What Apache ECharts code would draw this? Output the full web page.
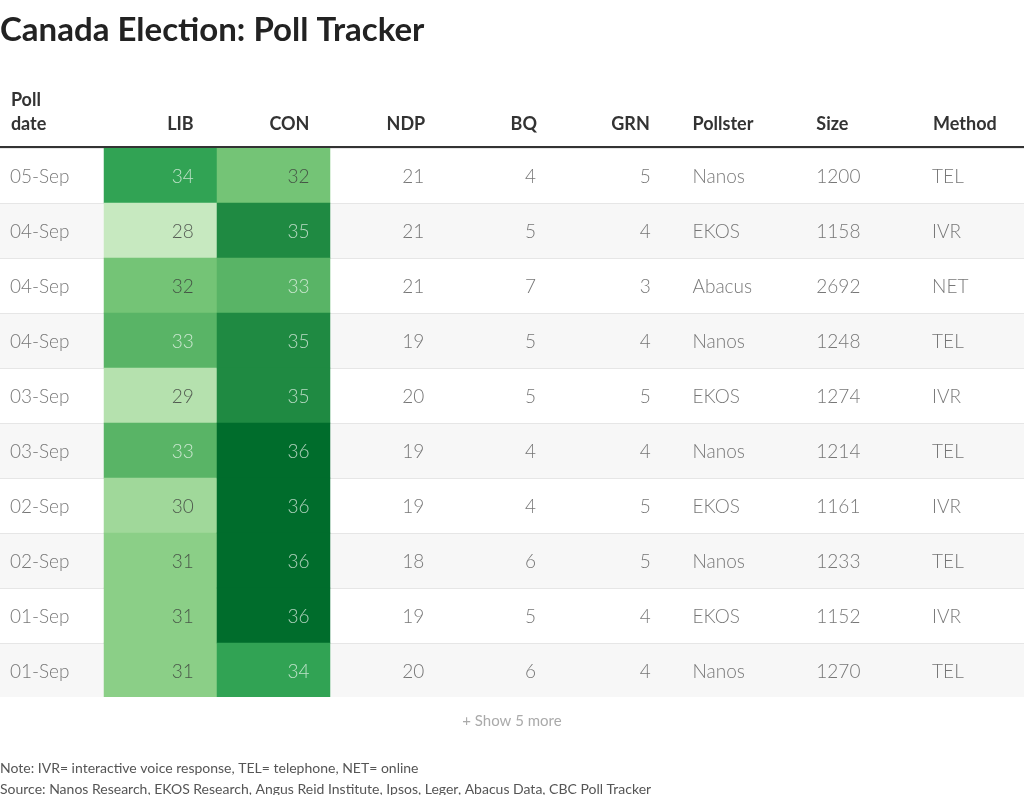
<!DOCTYPE html>
<html>
<head>
<meta charset="utf-8">
<script src="https://cdn.jsdelivr.net/npm/echarts@6/dist/echarts.min.js"></script>
<style>
  html, body { margin: 0; padding: 0; background: #fff; }
  #chart { width: 1024px; height: 795px; }
</style>
</head>
<body>
<div id="chart"></div>
<script>
const columns = ['Poll\ndate', 'LIB', 'CON', 'NDP', 'BQ', 'GRN', 'Pollster', 'Size', 'Method'];
const shadedCols = ['LIB', 'CON'];
const pollDate = ['05-Sep', '04-Sep', '04-Sep', '04-Sep', '03-Sep', '03-Sep', '02-Sep', '02-Sep', '01-Sep', '01-Sep'];
const lib = [34, 28, 32, 33, 29, 33, 30, 31, 31, 31];
const con = [32, 35, 33, 35, 35, 36, 36, 36, 36, 34];
const ndp = [21, 21, 21, 19, 20, 19, 19, 18, 19, 20];
const bq = [4, 5, 7, 5, 5, 4, 4, 6, 5, 6];
const grn = [5, 4, 3, 4, 5, 4, 5, 5, 4, 4];
const pollster = ['Nanos', 'EKOS', 'Abacus', 'Nanos', 'EKOS', 'Nanos', 'EKOS', 'Nanos', 'EKOS', 'Nanos'];
const sampleSize = [1200, 1158, 2692, 1248, 1274, 1214, 1161, 1233, 1152, 1270];
const method = ['TEL', 'IVR', 'NET', 'TEL', 'IVR', 'TEL', 'IVR', 'TEL', 'IVR', 'TEL'];

const FONT = 'Lato, "Noto Sans", sans-serif';
const TOP = 148, ROW_H = 55;
const rows = pollDate.map((d, i) => String(i));

// greens scale by share value
const shadeColors = {
  28: '#c7e9c0', 29: '#b5e1ae', 30: '#a0d89a', 31: '#8bcf87', 32: '#74c476',
  33: '#59b466', 34: '#31a354', 35: '#1f8a42', 36: '#006d2c'
};

// text columns: [column index, values, align, offset from column centre]
const textCols = [
  [0, pollDate, 'left', -47],
  [1, lib, 'right', 23],
  [2, con, 'right', 25],
  [3, ndp, 'right', 26],
  [4, bq, 'right', 24],
  [5, grn, 'right', 25],
  [6, pollster, 'left', -47],
  [7, sampleSize, 'left', -37],
  [8, method, 'left', -35]
];

const chart = echarts.init(document.getElementById('chart'));

const heatData = [];
lib.forEach((v, i) => heatData.push([0, i, v]));
con.forEach((v, i) => heatData.push([1, i, v]));

const textSeries = textCols.map(([col, values, align, off]) => ({
  type: 'scatter',
  xAxisIndex: 1,
  yAxisIndex: 1,
  symbolSize: 0,
  silent: true,
  z: 5,
  data: values.map((v, i) => {
    const inShade = col === 1 || col === 2;
    return {
      value: [col, i, v],
      label: { color: inShade ? (v >= 33 ? 'rgba(255,255,255,0.85)' : '#3a3a3a') : '#555' }
    };
  }),
  label: {
    show: true,
    position: 'inside',
    align: align,
    verticalAlign: 'middle',
    offset: [off, 1],
    fontFamily: FONT,
    fontWeight: 300,
    fontSize: 19,
    formatter: p => String(p.value[2])
  }
}));

chart.setOption({
  animation: false,
  title: {
    text: 'Canada Election: Poll Tracker',
    left: 0,
    top: 14,
    padding: 0,
    textStyle: { fontFamily: FONT, fontSize: 33, fontWeight: 'bold', color: '#222' }
  },
  grid: [
    // row bands
    { left: 0, right: 0, top: TOP, height: ROW_H * rows.length },
    // text columns
    { left: 0, right: 0, top: TOP, height: ROW_H * rows.length },
    // shaded LIB / CON cells
    { left: 104, width: 226, top: TOP, height: ROW_H * rows.length }
  ],
  xAxis: [
    { gridIndex: 0, type: 'value', min: 0, max: 1, show: false },
    { gridIndex: 1, type: 'category', data: columns, show: false },
    { gridIndex: 2, type: 'category', data: shadedCols, show: false }
  ],
  yAxis: [
    {
      gridIndex: 0, type: 'category', data: rows, inverse: true,
      axisLine: { show: false }, axisTick: { show: false }, axisLabel: { show: false },
      splitArea: { show: true, areaStyle: { color: ['#ffffff', '#f7f7f7'] } },
      splitLine: { show: true, lineStyle: { color: '#e6e6e6', width: 1 } }
    },
    { gridIndex: 1, type: 'category', data: rows, inverse: true, show: false },
    { gridIndex: 2, type: 'category', data: rows, inverse: true, show: false }
  ],
  visualMap: {
    type: 'piecewise',
    show: false,
    seriesIndex: 0,
    dimension: 2,
    pieces: Object.keys(shadeColors).map(k => ({ value: Number(k), color: shadeColors[k] }))
  },
  series: [
    {
      type: 'heatmap',
      xAxisIndex: 2,
      yAxisIndex: 2,
      data: heatData,
      silent: true,
      z: 2,
      label: { show: false }
    }
  ].concat(textSeries)
});

// header labels placed from the text-column axis
const headerAlign = ['left', 'right', 'right', 'right', 'right', 'right', 'left', 'left', 'left'];
const headerOff = [-46, 23, 25, 27, 25, 24, -47, -37, -34];
const graphics = columns.map((name, c) => ({
  type: 'text',
  x: chart.convertToPixel({ xAxisIndex: 1 }, c) + headerOff[c],
  y: name.indexOf('\n') >= 0 ? 112 : 124,
  style: {
    text: name,
    align: headerAlign[c],
    verticalAlign: 'middle',
    font: 'bold 18px ' + FONT,
    lineHeight: 24,
    fill: '#333'
  }
}));

graphics.push(
  { type: 'rect', shape: { x: 0, y: 146, width: 1024, height: 2 }, style: { fill: '#333' }, z: 10 },
  { type: 'rect', shape: { x: 0, y: 697, width: 1024, height: 2 }, style: { fill: '#fff' }, z: 10 },
  {
    type: 'text', x: 512, y: 721,
    style: { text: '+ Show 5 more', align: 'center', verticalAlign: 'middle', font: '15px ' + FONT, fill: '#aaa' }
  },
  {
    type: 'text', x: 0, y: 768,
    style: { text: 'Note: IVR= interactive voice response, TEL= telephone, NET= online', verticalAlign: 'middle', font: '14px ' + FONT, fill: '#555' }
  },
  {
    type: 'text', x: 0, y: 789,
    style: { text: 'Source: Nanos Research, EKOS Research, Angus Reid Institute, Ipsos, Leger, Abacus Data, CBC Poll Tracker', verticalAlign: 'middle', font: '14px ' + FONT, fill: '#555' }
  }
);

chart.setOption({ graphic: graphics });
</script>
</body>
</html>
